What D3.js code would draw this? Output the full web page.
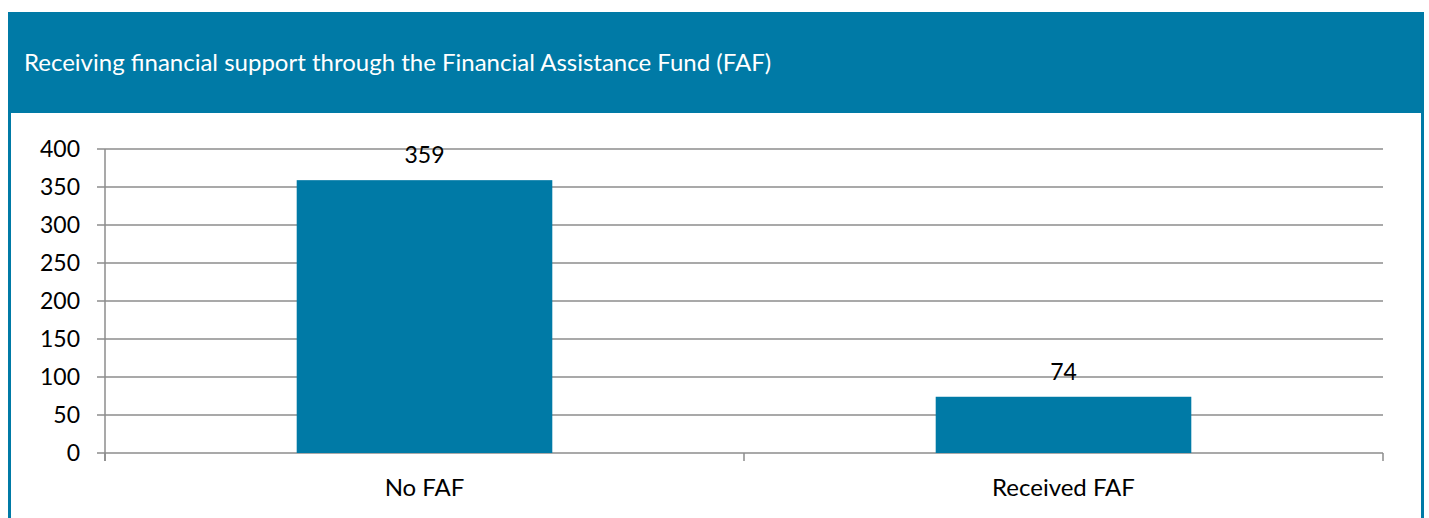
<!DOCTYPE html>
<html>
<head>
<meta charset="utf-8">
<script src="https://cdn.jsdelivr.net/npm/d3@7"></script>
<style>
  body { margin: 0; background: #fff; }
  svg { display: block; font-family: "Lato", "Open Sans", sans-serif; }
</style>
</head>
<body>
<div id="chart"></div>
<script>
// chart data
var title = "Receiving financial support through the Financial Assistance Fund (FAF)";
var categories = ["No FAF", "Received FAF"];
var values = [359, 74];
var yTicks = [0, 50, 100, 150, 200, 250, 300, 350, 400];

var W = 1429, H = 518;
var blue = "#007aa6";

var svg = d3.select("#chart").append("svg")
    .attr("width", W)
    .attr("height", H);

// outer panel with blue header and border
svg.append("rect")
    .attr("x", 8).attr("y", 12)
    .attr("width", 1416).attr("height", H)
    .attr("fill", blue);
svg.append("rect")
    .attr("x", 11).attr("y", 113)
    .attr("width", 1410).attr("height", H)
    .attr("fill", "#fff");

svg.append("text")
    .attr("x", 24).attr("y", 71)
    .attr("fill", "#fff")
    .style("font-size", "24px")
    .text(title);

var margin = { left: 105, right: 1383, top: 149, bottom: 453 };

var x = d3.scaleBand()
    .domain(categories)
    .range([margin.left, margin.right])
    .paddingInner(0)
    .paddingOuter(0);

var y = d3.scaleLinear()
    .domain([0, 400])
    .range([margin.bottom, margin.top]);

var grid = "#8c8c8c";

// horizontal gridlines + left ticks
svg.append("g")
    .selectAll("line")
    .data(yTicks)
    .enter()
    .append("line")
    .attr("x1", margin.left - 8)
    .attr("x2", margin.right)
    .attr("y1", function (d) { return y(d); })
    .attr("y2", function (d) { return y(d); })
    .attr("stroke", grid)
    .attr("stroke-width", 1.5);

svg.append("g")
    .selectAll("text")
    .data(yTicks)
    .enter()
    .append("text")
    .attr("x", 80)
    .attr("y", function (d) { return y(d); })
    .attr("dy", "0.35em")
    .attr("text-anchor", "end")
    .style("font-size", "23px")
    .attr("fill", "#000")
    .text(function (d) { return d; });

// y axis line
svg.append("line")
    .attr("x1", margin.left).attr("x2", margin.left)
    .attr("y1", margin.top).attr("y2", margin.bottom + 8)
    .attr("stroke", grid).attr("stroke-width", 1.5);

// bottom category tick marks
var bounds = [margin.left, margin.left + x.bandwidth(), margin.right];
svg.append("g")
    .selectAll("line")
    .data(bounds)
    .enter()
    .append("line")
    .attr("x1", function (d) { return d; })
    .attr("x2", function (d) { return d; })
    .attr("y1", margin.bottom)
    .attr("y2", margin.bottom + 8)
    .attr("stroke", grid).attr("stroke-width", 1.5);

// bars
var barW = x.bandwidth() * 0.4;
svg.append("g")
    .selectAll("rect")
    .data(values)
    .enter()
    .append("rect")
    .attr("x", function (d, i) { return x(categories[i]) + (x.bandwidth() - barW) / 2; })
    .attr("y", function (d) { return y(d); })
    .attr("width", barW)
    .attr("height", function (d) { return y(0) - y(d); })
    .attr("fill", blue);

// value labels
svg.append("g")
    .selectAll("text")
    .data(values)
    .enter()
    .append("text")
    .attr("x", function (d, i) { return x(categories[i]) + x.bandwidth() / 2; })
    .attr("y", function (d) { return y(d) - 17; })
    .attr("text-anchor", "middle")
    .style("font-size", "23px")
    .text(function (d) { return d; });

// category labels
svg.append("g")
    .selectAll("text")
    .data(categories)
    .enter()
    .append("text")
    .attr("x", function (d) { return x(d) + x.bandwidth() / 2; })
    .attr("y", 496)
    .attr("text-anchor", "middle")
    .style("font-size", "24px")
    .text(function (d) { return d; });
</script>
</body>
</html>
